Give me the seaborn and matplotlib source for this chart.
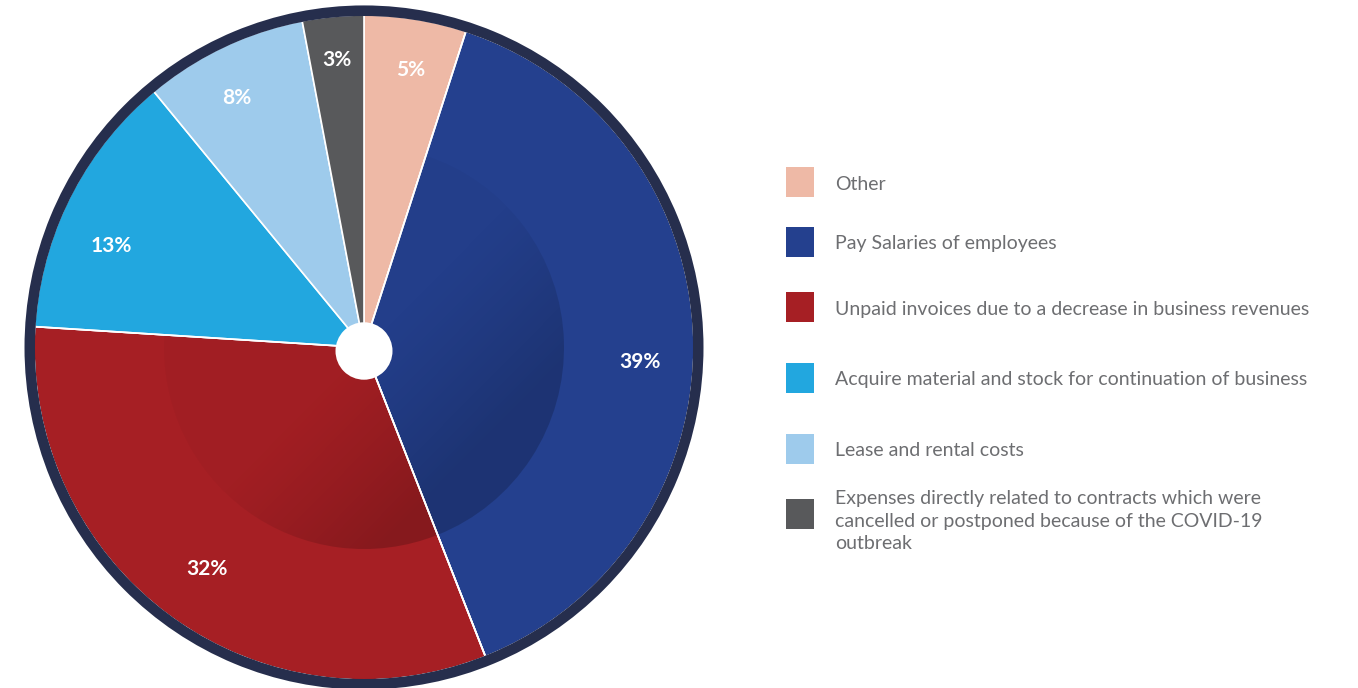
import numpy as np
import matplotlib
matplotlib.use("Agg")
import matplotlib.pyplot as plt
from matplotlib.patches import Circle, Wedge, Rectangle
import seaborn as sns

# Share of financing needs by purpose (%)
categories = [
    "Other",
    "Pay Salaries of employees",
    "Unpaid invoices due to a decrease in business revenues",
    "Acquire material and stock for continuation of business",
    "Lease and rental costs",
    "Expenses directly related to contracts which were\ncancelled or postponed because of the COVID-19\noutbreak",
]
shares = [5, 39, 32, 13, 8, 3]
colors = ["#EEB9A6", "#24408E", "#A61F24", "#22A7DF", "#9ECBEC", "#58595B"]

sns.set_theme(style="white")
plt.rcParams["font.family"] = ["Lato", "DejaVu Sans"]

W, H = 1358, 688
SY = 332.5 / 330.0  # vertical pixels per data unit


def py_to_y(py):
    return (H - py) / SY


fig = plt.figure(figsize=(W / 100, H / 100), dpi=100)
fig.patch.set_facecolor("white")
ax = fig.add_axes([0, 0, 1, 1])

cx, cy = 364.0, py_to_y(347.5)
R = 330.0

wedges, _, pct_texts = ax.pie(
    shares,
    colors=colors,
    startangle=90,
    counterclock=False,
    center=(cx, cy),
    radius=R,
    autopct=lambda p: f"{p:.0f}%",
    pctdistance=0.845,
    wedgeprops=dict(edgecolor="white", linewidth=1.2),
    textprops=dict(color="white", fontsize=15, fontweight="bold"),
    frame=True,
)
for w in wedges:
    w.set_zorder(1)

# Percentage label anchor points (pixels)
pct_pos = [(411, 70), (640, 362), (207, 569), (111, 246), (237, 98), (337, 60)]
for t, (px, py) in zip(pct_texts, pct_pos):
    t.set_position((px, py_to_y(py)))
    t.set_zorder(6)

# Soft shadow disc over the two largest slices, darker toward lower right
r_sh = 200.0
n = 400
gx, gy = np.meshgrid(np.linspace(-1, 1, n), np.linspace(-1, 1, n))
proj = (gx - gy) / np.sqrt(2)
alpha = 0.03 + 0.16 * np.clip(proj / 0.75, 0, 1) ** 1.2
shade = np.zeros((n, n, 4))
shade[..., 3] = alpha
for idx in (1, 2):
    w = wedges[idx]
    im = ax.imshow(
        shade,
        origin="lower",
        extent=(cx - r_sh, cx + r_sh, cy - r_sh, cy + r_sh),
        interpolation="bilinear",
        zorder=2,
        aspect="auto",
    )
    clip = Wedge((cx, cy), r_sh, w.theta1, w.theta2, transform=ax.transData,
                 facecolor="none", edgecolor="none")
    ax.add_patch(clip)
    im.set_clip_path(clip)

# Redraw the white slice borders on top of the shading
for w in wedges[1:3]:
    ax.add_patch(Wedge((cx, cy), R, w.theta1, w.theta2, facecolor="none",
                       edgecolor="white", linewidth=1.2, zorder=2.5))

# Dark outer ring
ax.add_patch(Wedge((cx, cy), R + 9.5, 0, 360, width=10.5, facecolor="#262E4D",
                   edgecolor="none", zorder=3))

# White centre hole
ax.add_patch(Circle((364, py_to_y(351)), 28.5, facecolor="white", edgecolor="none", zorder=5))

# Legend
leg_sq_y = [182, 242, 307, 378, 449, 514]
leg_txt_y = [184, 244, 309, 380, 451, 521]
sq_w, sq_h = 28, 30 / SY
for lab, col, yc, yt in zip(categories, colors, leg_sq_y, leg_txt_y):
    ax.add_patch(Rectangle((786, py_to_y(yc) - sq_h / 2), sq_w, sq_h,
                           facecolor=col, edgecolor="none", zorder=4))
    ax.text(835, py_to_y(yt), lab, ha="left", va="center", fontsize=14,
            color="#6D6E71", linespacing=1.42, zorder=4)

ax.set_xlim(0, W)
ax.set_ylim(0, H / SY)
ax.set_aspect("auto")
ax.axis("off")

fig.savefig("out.png", dpi=100, facecolor="white")
